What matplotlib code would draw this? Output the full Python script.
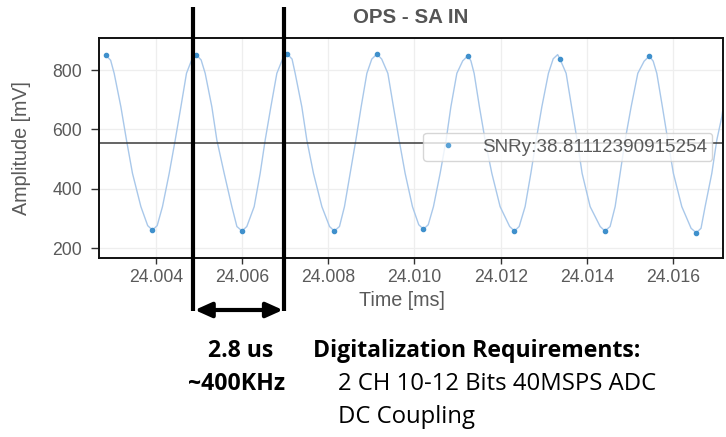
import matplotlib
matplotlib.use('Agg')
import matplotlib.pyplot as plt
from matplotlib.transforms import blended_transform_factory

plt.rcParams['font.family'] = ['Liberation Sans', 'DejaVu Sans']

# sampled waveform (time in ms, amplitude in mV)
wave_t = [24.00284, 24.00295, 24.003032, 24.003188, 24.003318, 24.003457, 24.003652, 24.00381,
          24.00392, 24.00403, 24.004153, 24.004309, 24.004448, 24.00458, 24.00471, 24.00483,
          24.00494, 24.00505, 24.005144, 24.005299, 24.005415, 24.005585, 24.005763, 24.00588,
          24.00600, 24.00611, 24.006281, 24.00642, 24.006536, 24.006668, 24.006807, 24.00694,
          24.00705, 24.00716, 24.007232, 24.007387, 24.007503, 24.007657, 24.007852, 24.00803,
          24.00814, 24.00826, 24.008376, 24.008508, 24.00864, 24.008763, 24.008896, 24.00901,
          24.00913, 24.00924, 24.009383, 24.009513, 24.009645, 24.009784, 24.009954, 24.0101,
          24.01021, 24.01032, 24.010441, 24.010596, 24.010735, 24.010845, 24.010984, 24.01112,
          24.01124, 24.01131, 24.011385, 24.011508, 24.01164, 24.011796, 24.011988, 24.01221,
          24.01232, 24.01243, 24.012568, 24.012701, 24.012824, 24.012956, 24.013109, 24.01322,
          24.013323, 24.01338, 24.01352, 24.013647, 24.013775, 24.013891, 24.014077, 24.01431,
          24.01442, 24.01454, 24.014657, 24.014773, 24.014889, 24.015028, 24.015183, 24.01533,
          24.01545, 24.01554, 24.015624, 24.015754, 24.015879, 24.016009, 24.016204, 24.01642,
          24.01654, 24.01665, 24.016745, 24.0169, 24.017016, 24.017132, 24.01718]
wave_v = [850, 833, 789, 676, 564, 452, 340, 276,
          261, 276, 340, 452, 564, 676, 789, 834,
          851, 834, 789, 676, 564, 452, 340, 273,
          258, 273, 340, 452, 564, 676, 789, 837,
          854, 837, 789, 676, 564, 452, 340, 273,
          258, 273, 340, 452, 564, 676, 789, 837,
          854, 837, 789, 676, 564, 452, 340, 279,
          264, 279, 340, 452, 564, 676, 789, 831,
          848, 831, 789, 676, 564, 452, 340, 273,
          258, 273, 340, 452, 564, 676, 789, 838,
          852, 836, 789, 676, 564, 452, 340, 273,
          258, 273, 340, 452, 564, 676, 789, 830,
          847, 830, 789, 676, 564, 452, 340, 267,
          252, 267, 340, 452, 564, 642, 690]

# detected extrema
peak_t = [24.00284, 24.00494, 24.00705, 24.00913, 24.01124, 24.01338, 24.01545]
peak_v = [850, 851, 854, 854, 848, 836, 847]
trough_t = [24.00392, 24.00600, 24.00814, 24.01021, 24.01232, 24.01442, 24.01654]
trough_v = [261, 258, 258, 264, 258, 258, 252]

mean_level = 555
snr_label = 'SNRy:38.81112390915254'

xticks = [24.004, 24.006, 24.008, 24.010, 24.012, 24.014, 24.016]
xtick_labels = ['24.004', '24.006', '24.008', '24.010', '24.012', '24.014', '24.016']
yticks = [200, 400, 600, 800]

period_marks = [24.00487, 24.00698]

fig = plt.figure(figsize=(7.26, 4.37), dpi=100)
ax = fig.add_axes([99 / 726, 1 - 258 / 437, 624 / 726, 220 / 437])

ax.plot(wave_t, wave_v, color='#a9c8ea', lw=1.0, zorder=2)
ax.plot(peak_t, peak_v, ls='none', marker='o', ms=3.0, color='#3f90cc', zorder=3)
ax.plot(trough_t, trough_v, ls='none', marker='o', ms=3.0, color='#3f90cc', zorder=3)
ax.axhline(mean_level, color='#3a3a3a', lw=1.1, zorder=2)
ax.plot([], [], ls='none', marker='o', ms=3.0, color='#5aa2d6', label=snr_label)

ax.set_xlim(24.00268, 24.01716)
ax.set_ylim(167, 908)
ax.set_xticks(xticks)
ax.set_xticklabels(xtick_labels)
ax.set_yticks(yticks)

ax.grid(True, color='#eeeeee', lw=0.9)
ax.set_axisbelow(True)
for s in ax.spines.values():
    s.set_color('#111111')
    s.set_linewidth(1.4)
ax.tick_params(axis='x', length=4.5, width=1.0, color='#333333', labelcolor='#5a5a5a',
               labelsize=12.7, pad=3.4)
ax.tick_params(axis='y', length=5.5, width=1.0, color='#333333', labelcolor='#5a5a5a',
               labelsize=12.7, pad=6.5)

ax.set_title('OPS - SA IN', fontsize=14.8, fontweight='bold', color='#555555', pad=10.5)
ax.set_xlabel('Time [ms]', fontsize=14.2, color='#5a5a5a')
ax.set_ylabel('Amplitude [mV]', fontsize=14.2, color='#5a5a5a')
ax.xaxis.set_label_coords((401.5 - 99) / 624, (258 - 291) / 220)
ax.yaxis.set_label_coords((31 - 99) / 624, 0.5)

leg = ax.legend(loc='upper right', bbox_to_anchor=((712.3 - 99) / 624, (258 - 132.7) / 220),
                borderaxespad=0, fontsize=13.6, borderpad=0.3, handletextpad=0.8,
                framealpha=0.8, edgecolor='#cccccc')
for t in leg.get_texts():
    t.set_color('#5a5a5a')

# period markers drawn across the figure
trans = blended_transform_factory(ax.transData, fig.transFigure)
for t in period_marks:
    ax.plot([t, t], [1 - 7 / 437, 1 - 311 / 437], transform=trans, color='black',
            lw=3.0, clip_on=False, zorder=5, solid_capstyle='butt')
ax.annotate('', xy=(period_marks[1], 1 - 310 / 437), xytext=(period_marks[0], 1 - 310 / 437),
            xycoords=trans, textcoords=trans, annotation_clip=False,
            arrowprops=dict(arrowstyle='<|-|>,head_length=1.0,head_width=0.45',
                            mutation_scale=10, lw=3.0, color='black',
                            shrinkA=1, shrinkB=1))

txt = dict(family=['Open Sans', 'DejaVu Sans'], color='black', va='baseline')
fig.text(240.8 / 726, 1 - 356.7 / 437, '2.8 us', ha='center', fontsize=16.6, fontweight='bold', **txt)
fig.text(236.4 / 726, 1 - 390 / 437, '~400KHz', ha='center', fontsize=16.6, fontweight='bold', **txt)
fig.text(313.3 / 726, 1 - 356.7 / 437, 'Digitalization Requirements:', ha='left',
         fontsize=16.6, fontweight='bold', **txt)
fig.text(337.7 / 726, 1 - 390 / 437, '2 CH 10-12 Bits 40MSPS ADC', ha='left', fontsize=17.2, **txt)
fig.text(337.7 / 726, 1 - 423.3 / 437, 'DC Coupling', ha='left', fontsize=17.2, **txt)

fig.savefig('out.png', dpi=100)
